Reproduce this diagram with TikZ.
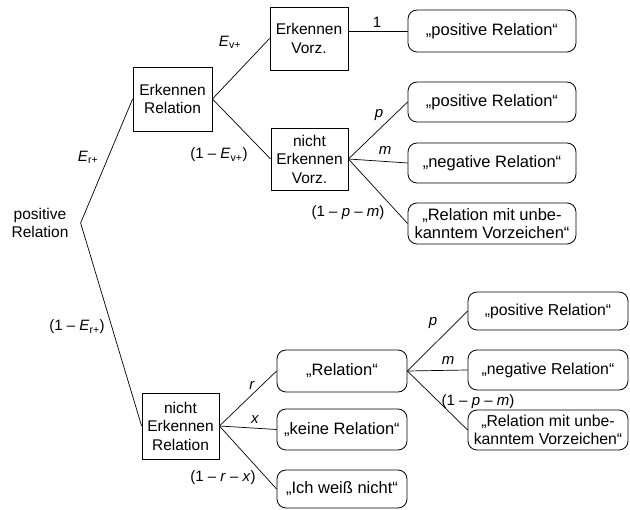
\documentclass[tikz,border=0pt]{standalone}
\usepackage{fontspec}
\setmainfont{Liberation Sans}
\newcommand\myfs{\fontsize{15.5}{18.5}\selectfont}
\newcommand\myrs{\fontsize{16.5}{18.5}\selectfont}
\newcommand\myes{\fontsize{15.8}{18}\selectfont}
\newcommand\mylf{\fontsize{15}{17}\selectfont}
\tikzset{
  sq/.style={draw, line width=0.8pt, minimum width=78pt, minimum height=63pt, align=center, inner sep=1pt, font=\myfs},
  rb/.style={draw, rounded corners=9pt, line width=0.8pt, align=center, inner sep=1pt, font=\myrs},
  lab/.style={inner sep=0pt, font=\mylf},
  conn/.style={line width=0.7pt},
}
\begin{document}
\begin{tikzpicture}[x=1pt,y=-1pt]
\useasboundingbox (0,0) rectangle (630,510);
% root
\node[align=center, font=\myfs, inner xsep=12pt, inner ysep=0pt] (pr) at (40,223) {positive\\Relation};
% square boxes
\node[sq, minimum width=79pt, minimum height=64pt] (er) at (172.5,99) {Erkennen\\Relation};
\node[sq] (ev) at (309,38.5) {Erkennen\\Vorz.};
\node[sq, minimum width=77pt, minimum height=62pt] (nev) at (309.5,159) {nicht\\Erkennen\\Vorz.};
\node[sq, minimum width=77pt, minimum height=66pt] (ner) at (180.5,426) {nicht\\Erkennen\\Relation};
% rounded boxes, upper part
\node[rb, minimum width=168pt, minimum height=42pt] (a1) at (492,31) {„positive Relation“};
\node[rb, minimum width=168pt, minimum height=40pt] (a2) at (492,102) {„positive Relation“};
\node[rb, minimum width=168pt, minimum height=40pt] (a3) at (492,163) {„negative Relation“};
\node[rb, minimum width=168pt, minimum height=41pt] (a4) at (492,223.5) {„Relation mit unbe-\\kanntem Vorzeichen“};
% rounded boxes, lower part
\node[rb, minimum width=130pt, minimum height=42pt] (b) at (342,371) {„Relation“};
\node[rb, minimum width=130pt, minimum height=41pt] (c) at (342,429.5) {„keine Relation“};
\node[rb, minimum width=130pt, minimum height=38pt] (d) at (342,489) {„Ich weiß nicht“};
\node[rb, font=\myes, minimum width=160pt, minimum height=38pt] (e1) at (548,311) {„positive Relation“};
\node[rb, font=\myes, minimum width=160pt, minimum height=40pt] (e2) at (548,370) {„negative Relation“};
\node[rb, font=\myes, minimum width=160pt, minimum height=40pt] (e3) at (548,430) {„Relation mit unbe-\\kanntem Vorzeichen“};
% connectors
\draw[conn] (pr.east) -- (er.west);
\draw[conn] (pr.east) -- (ner.west);
\draw[conn] (er.east) -- (ev.west);
\draw[conn] (er.east) -- (nev.west);
\draw[conn] (ev.east |- a1.west) -- (a1.west);
\draw[conn] (nev.east) -- (a2.west);
\draw[conn] (nev.east) -- (a3.west);
\draw[conn] (nev.east) -- (a4.west);
\draw[conn] (ner.east) -- (b.west);
\draw[conn] (ner.east) -- (c.west);
\draw[conn] (ner.east) -- (d.west);
\draw[conn] (b.east) -- (e1.west);
\draw[conn] (b.east) -- (e2.west);
\draw[conn] (b.east) -- (e3.west);
% labels
\node[lab] (l1) at (377,22) {1};
\node[lab] (lev) at (230,42) {\textit{E}\textsubscript{v+}};
\node[lab] (lnev) at (219,155) {(1 – \textit{E}\textsubscript{v+})};
\node[lab] (ler) at (88,157) {\textit{E}\textsubscript{r+}};
\node[lab] (lner) at (77,327) {(1 – \textit{E}\textsubscript{r+})};
\node[lab] (lp1) at (379,115) {\textit{p}};
\node[lab] (lm1) at (385,150) {\textit{m}};
\node[lab] (lpm1) at (348,213) {(1 – \textit{p} – \textit{m})};
\node[lab] (lr) at (252,385) {\textit{r}};
\node[lab] (lx) at (255,420) {\textit{x}};
\node[lab] (lrx) at (223,478) {(1 – \textit{r} – \textit{x})};
\node[lab] (lp2) at (433,323) {\textit{p}};
\node[lab] (lm2) at (448,360) {\textit{m}};
\node[lab] (lpm2) at (478,402) {(1 – \textit{p} – \textit{m})};
\end{tikzpicture}
\end{document}
